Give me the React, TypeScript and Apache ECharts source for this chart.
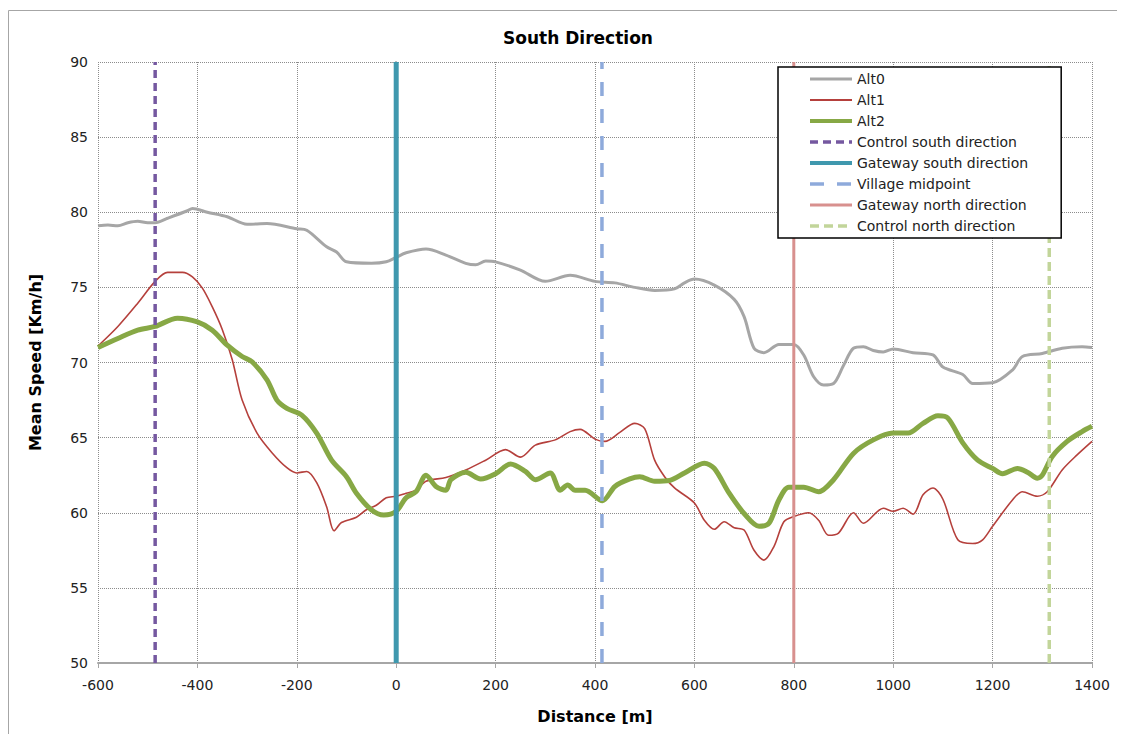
import React, { useEffect, useRef } from "react";
import * as echarts from "echarts";

// ---- data ----
const alt0Dist = [-600, -580, -560, -540, -520, -500, -485, -460, -420, -410, -380, -340, -300, -260, -200, -180, -140, -120, -100, -50, -20, 0, 20, 60, 100, 140, 160, 180, 200, 250, 300, 350, 400, 440, 480, 520, 560, 580, 600, 640, 680, 700, 720, 740, 770, 800, 820, 840, 860, 880, 900, 920, 940, 960, 980, 1000, 1040, 1080, 1100, 1140, 1160, 1200, 1240, 1260, 1300, 1340, 1380, 1400];
const alt0Speed = [79.1, 79.15, 79.1, 79.3, 79.4, 79.3, 79.3, 79.6, 80.1, 80.25, 80.0, 79.7, 79.2, 79.25, 78.9, 78.8, 77.7, 77.35, 76.7, 76.6, 76.7, 77.0, 77.3, 77.55, 77.15, 76.6, 76.5, 76.75, 76.7, 76.15, 75.4, 75.8, 75.4, 75.3, 75.0, 74.8, 74.9, 75.3, 75.55, 75.15, 74.2, 73.05, 70.95, 70.65, 71.2, 71.2, 70.5, 69.05, 68.5, 68.6, 69.8, 70.95, 71.05, 70.8, 70.7, 70.9, 70.65, 70.5, 69.7, 69.2, 68.6, 68.65, 69.5, 70.4, 70.6, 70.95, 71.05, 71.0];

const alt1Dist = [-600, -560, -520, -485, -460, -430, -410, -390, -370, -350, -330, -310, -280, -250, -220, -200, -180, -160, -140, -125, -110, -80, -60, -40, -20, 0, 20, 40, 60, 100, 140, 180, 220, 250, 280, 320, 350, 370, 400, 420, 450, 480, 500, 520, 540, 560, 600, 620, 640, 660, 680, 700, 720, 740, 760, 780, 800, 830, 850, 870, 890, 920, 940, 980, 1000, 1020, 1040, 1060, 1080, 1100, 1130, 1160, 1180, 1200, 1240, 1260, 1290, 1310, 1340, 1370, 1400];
const alt1Speed = [71.1, 72.4, 73.95, 75.4, 76.0, 76.0, 75.7, 74.95, 73.7, 72.2, 70.2, 67.5, 65.3, 64.0, 63.0, 62.65, 62.75, 62.0, 60.4, 58.8, 59.35, 59.7, 60.2, 60.5, 61.0, 61.1, 61.3, 61.5, 62.1, 62.35, 62.85, 63.5, 64.2, 63.7, 64.5, 64.85, 65.4, 65.55, 64.9, 64.75, 65.35, 65.95, 65.6, 63.5, 62.4, 61.65, 60.65, 59.5, 58.9, 59.4, 59.0, 58.85, 57.5, 56.85, 57.75, 59.4, 59.75, 60.0, 59.5, 58.5, 58.65, 60.0, 59.3, 60.3, 60.1, 60.3, 59.9, 61.2, 61.65, 60.9, 58.2, 57.95, 58.2, 59.1, 60.85, 61.4, 61.1, 61.4, 62.85, 63.85, 64.75];

const alt2Dist = [-600, -560, -520, -485, -440, -400, -370, -340, -310, -290, -260, -240, -220, -190, -160, -130, -100, -80, -50, -25, 0, 20, 40, 60, 80, 100, 110, 140, 170, 200, 230, 260, 280, 310, 330, 345, 360, 380, 415, 440, 470, 490, 520, 550, 580, 620, 640, 670, 700, 730, 750, 770, 790, 820, 850, 880, 920, 960, 1000, 1030, 1060, 1090, 1110, 1140, 1170, 1200, 1220, 1250, 1270, 1290, 1300, 1320, 1350, 1380, 1400];
const alt2Speed = [71.0, 71.6, 72.15, 72.4, 72.95, 72.7, 72.15, 71.15, 70.4, 70.05, 68.85, 67.5, 66.95, 66.5, 65.3, 63.5, 62.4, 61.3, 60.2, 59.85, 60.1, 61.0, 61.4, 62.5, 61.75, 61.5, 62.2, 62.7, 62.25, 62.6, 63.25, 62.75, 62.2, 62.65, 61.5, 61.85, 61.5, 61.5, 60.8, 61.75, 62.25, 62.4, 62.1, 62.15, 62.65, 63.3, 62.95, 61.3, 59.95, 59.1, 59.3, 60.85, 61.7, 61.7, 61.4, 62.2, 63.95, 64.85, 65.3, 65.3, 65.95, 66.45, 66.3, 64.65, 63.5, 62.95, 62.6, 62.95, 62.7, 62.3, 62.5, 63.75, 64.75, 65.4, 65.75];

const markerNames = ["Control south direction", "Gateway south direction", "Village midpoint", "Gateway north direction", "Control north direction"];
const markerDist = [-485, 0, 414, 800, 1314];
const speedRange = [50, 90];
const xTicks = { min: -600, max: 1400, step: 200 };
const yTicks = { min: 50, max: 90, step: 5 };

const altStyles = [
  { name: "Alt0", color: "#a6a6a6", width: 3, type: "solid" },
  { name: "Alt1", color: "#b5403c", width: 1.6, type: "solid" },
  { name: "Alt2", color: "#87a845", width: 5, type: "solid" },
];
const markerStyles = [
  { color: "#7558a0", width: 3.5, type: [8, 5] },
  { color: "#3f98ae", width: 5, type: "solid" },
  { color: "#8eaadb", width: 3.5, type: [14, 13] },
  { color: "#d8908e", width: 3, type: "solid" },
  { color: "#c2d59a", width: 3.5, type: [9, 5] },
];

export default function App() {
  const ref = useRef<HTMLDivElement>(null);
  useEffect(() => {
    if (!ref.current) return;
    const chart = echarts.init(ref.current, null, { renderer: "svg" });
    const altData = [
      alt0Dist.map((d, i) => [d, alt0Speed[i]]),
      alt1Dist.map((d, i) => [d, alt1Speed[i]]),
      alt2Dist.map((d, i) => [d, alt2Speed[i]]),
    ];
    const series: any[] = altStyles.map((s, i) => ({
      name: s.name,
      type: "line",
      data: altData[i],
      symbol: "none",
      smooth: 0.3,
      lineStyle: { color: s.color, width: s.width, type: s.type },
      itemStyle: { color: s.color },
      z: 2 + i,
    }));
    markerNames.forEach((n, i) => {
      const st = markerStyles[i];
      series.push({
        name: n,
        type: "line",
        data: [[markerDist[i], speedRange[0]], [markerDist[i], speedRange[1]]],
        symbol: "none",
        lineStyle: { color: st.color, width: st.width, type: st.type },
        itemStyle: { color: st.color },
        z: 6,
      });
    });
    const legendData = [
      ...altStyles.map((s) => ({ name: s.name, lineStyle: { width: s.width < 2 ? 2 : Math.min(s.width, 4) } })),
      ...markerNames.map((n, i) => ({ name: n, lineStyle: { width: Math.min(markerStyles[i].width, 4) } })),
    ];
    const font = "DejaVu Sans";
    chart.setOption({
      animation: false,
      backgroundColor: "#ffffff",
      title: {
        text: "South Direction",
        left: 565,
        top: 16,
        textAlign: "center",
        textStyle: { fontFamily: font, fontSize: 17, fontWeight: "bold", color: "#000" },
      },
      legend: {
        orient: "vertical",
        left: 770,
        top: 59,
        data: legendData,
        itemWidth: 42,
        itemHeight: 13,
        itemGap: 7,
        padding: [5, 33, 5, 30],
        borderColor: "#000",
        borderWidth: 1.5,
        backgroundColor: "#fff",
        itemStyle: { opacity: 0 },
        textStyle: { fontFamily: font, fontSize: 14, color: "#222" },
        z: 10,
      },
      grid: { left: 90, right: 25, top: 54, bottom: 71 },
      xAxis: {
        type: "value",
        min: xTicks.min,
        max: xTicks.max,
        interval: xTicks.step,
        name: "Distance [m]",
        nameLocation: "middle",
        nameGap: 45,
        nameTextStyle: { fontFamily: font, fontSize: 16, fontWeight: "bold", color: "#000" },
        axisLine: { lineStyle: { color: "#a6a6a6", width: 2 } },
        axisTick: { show: true, length: 5, lineStyle: { color: "#a6a6a6", width: 1 } },
        axisLabel: { fontFamily: font, fontSize: 14, color: "#222", margin: 15, formatter: (v: number) => String(v) },
        splitLine: { show: true, lineStyle: { color: "#8c8c8c", type: "dotted", width: 1 } },
      },
      yAxis: {
        type: "value",
        min: yTicks.min,
        max: yTicks.max,
        interval: yTicks.step,
        name: "Mean Speed [Km/h]",
        nameLocation: "middle",
        nameGap: 55,
        nameTextStyle: { fontFamily: font, fontSize: 16, fontWeight: "bold", color: "#000" },
        axisLine: { show: true, lineStyle: { color: "#a6a6a6", width: 2 } },
        axisTick: { show: true, length: 5, lineStyle: { color: "#a6a6a6", width: 1 } },
        axisLabel: { fontFamily: font, fontSize: 14, color: "#222", margin: 10, formatter: (v: number) => String(v) },
        splitLine: { show: true, lineStyle: { color: "#8c8c8c", type: "dotted", width: 1 } },
      },
      graphic: [
        {
          type: "rect",
          shape: { x: 0.5, y: 2.5, width: 1300, height: 900 },
          style: { fill: "none", stroke: "#a6a6a6", lineWidth: 1 },
          silent: true,
          z: -1,
        },
      ],
      series,
    });
    return () => chart.dispose();
  }, []);
  return <div ref={ref} style={{ width: 1109, height: 726 }} />;
}
